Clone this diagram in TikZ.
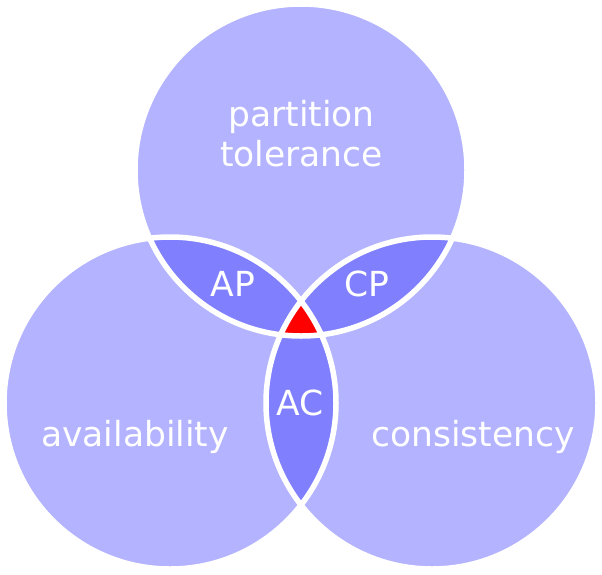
\documentclass[tikz,border=0pt]{standalone}
\usepackage{fontspec}
\setmainfont{DejaVu Sans}
\definecolor{lightc}{HTML}{B3B3FF}
\definecolor{midc}{HTML}{8080FF}
\definecolor{redc}{HTML}{FF0000}
\begin{document}
\begin{tikzpicture}[x=1pt,y=-1pt,
  lbl/.style={text=white,anchor=base,inner sep=0pt,font=\fontsize{34.5}{40}\selectfont},
  ring/.style={draw=white,line width=5.5pt}]
\useasboundingbox (0,0) rectangle (602,574);
\def\rr{166}
\coordinate (T) at (301,170);
\coordinate (L) at (170,403);
\coordinate (R) at (432,403);
% base fills
\fill[lightc] (T) circle (\rr);
\fill[lightc] (L) circle (\rr);
\fill[lightc] (R) circle (\rr);
% pairwise lenses
\begin{scope}\clip (T) circle (\rr); \fill[midc] (L) circle (\rr); \end{scope}
\begin{scope}\clip (T) circle (\rr); \fill[midc] (R) circle (\rr); \end{scope}
\begin{scope}\clip (L) circle (\rr); \fill[midc] (R) circle (\rr); \end{scope}
% triple
\begin{scope}\clip (T) circle (\rr); \clip (L) circle (\rr); \fill[redc] (R) circle (\rr); \end{scope}
% outlines
\draw[ring] (T) circle (\rr);
\draw[ring] (L) circle (\rr);
\draw[ring] (R) circle (\rr);
% labels
\node[lbl] (pt1) at (301.5,126) {partition};
\node[lbl] (pt2) at (301.5,166) {tolerance};
\node[lbl] (av) at (135,446) {availability};
\node[lbl] (co) at (473,446) {consistency};
\node[lbl] (ap) at (233,296) {AP};
\node[lbl] (cp) at (367,296) {CP};
\node[lbl] (ac) at (300,415) {AC};
\end{tikzpicture}
\end{document}
